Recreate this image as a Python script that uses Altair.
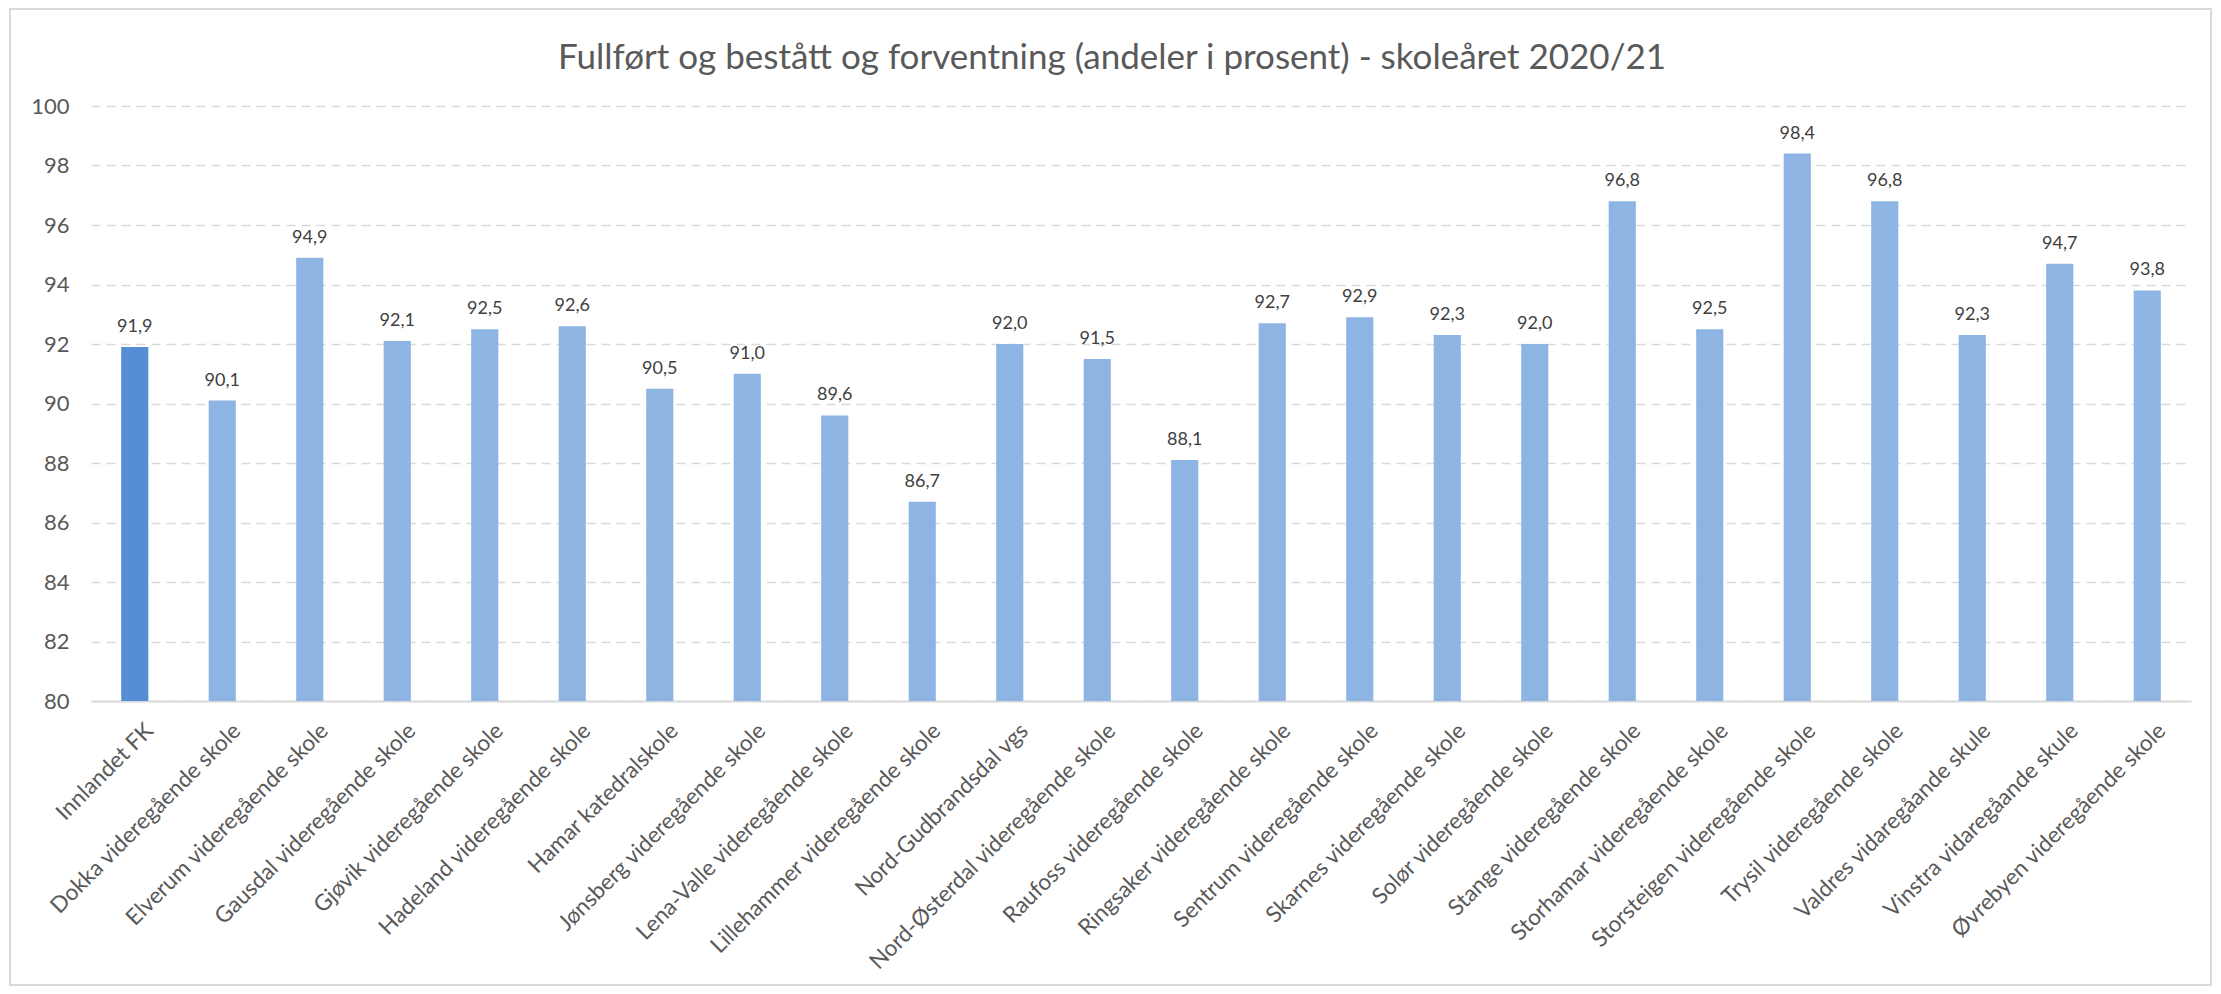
import altair as alt
import pandas as pd

schools = [
    "Innlandet FK",
    "Dokka videregående skole",
    "Elverum videregående skole",
    "Gausdal videregående skole",
    "Gjøvik videregående skole",
    "Hadeland videregående skole",
    "Hamar katedralskole",
    "Jønsberg videregående skole",
    "Lena-Valle videregående skole",
    "Lillehammer videregående skole",
    "Nord-Gudbrandsdal vgs",
    "Nord-Østerdal videregående skole",
    "Raufoss videregående skole",
    "Ringsaker videregående skole",
    "Sentrum videregående skole",
    "Skarnes videregående skole",
    "Solør videregående skole",
    "Stange videregående skole",
    "Storhamar videregående skole",
    "Storsteigen videregående skole",
    "Trysil videregående skole",
    "Valdres vidaregåande skule",
    "Vinstra vidaregåande skule",
    "Øvrebyen videregående skole",
]
values = [91.9, 90.1, 94.9, 92.1, 92.5, 92.6, 90.5, 91.0, 89.6, 86.7, 92.0, 91.5,
          88.1, 92.7, 92.9, 92.3, 92.0, 96.8, 92.5, 98.4, 96.8, 92.3, 94.7, 93.8]
groups = ["fylke"] + ["skole"] * (len(schools) - 1)
y_ticks = list(range(80, 101, 2))

df = pd.DataFrame({"skole": schools, "verdi": values, "gruppe": groups})
df["etikett"] = [f"{v:.1f}".replace(".", ",") for v in values]

FONT = "Lato"
GREY = "#595959"

x = alt.X("skole:N", sort=schools, title=None,
          scale=alt.Scale(paddingInner=0.69, paddingOuter=0.345),
          axis=alt.Axis(labelAngle=-45, labelAlign="right", labelBaseline="top",
                        labelFontSize=22.5, labelColor=GREY, labelFont=FONT,
                        labelPadding=18, labelOffset=7, ticks=False,
                        domainColor="#D9D9D9", domainWidth=2, grid=False,
                        labelLimit=700))
y = alt.Y("verdi:Q", title=None,
          scale=alt.Scale(domain=[80, 100], zero=False, nice=False),
          axis=alt.Axis(values=y_ticks, labelFontSize=22,
                        labelColor=GREY, labelFont=FONT, labelPadding=22,
                        ticks=False, domain=False, gridColor="#D9D9D9",
                        gridDash=[9, 6], gridWidth=1.5))

bars = alt.Chart(df).mark_bar(clip=True).encode(
    x=x, y=y,
    color=alt.Color("gruppe:N", legend=None,
                    scale=alt.Scale(domain=["fylke", "skole"],
                                    range=["#558ED5", "#8EB4E3"])),
)
labels = alt.Chart(df).mark_text(baseline="bottom", dy=-11, fontSize=18,
                                 font=FONT, color="#404040").encode(
    x=alt.X("skole:N", sort=schools), y="verdi:Q", text="etikett:N")

frame = alt.Chart(pd.DataFrame({"f": [0]})).mark_rect(
    fill=None, stroke="#D9D9D9", strokeWidth=2, clip=False).encode(
    x=alt.value(-81), x2=alt.value(2120), y=alt.value(-97), y2=alt.value(879))

chart = alt.layer(frame, bars, labels).properties(
    width=2100, height=595,
    autosize=alt.AutoSizeParams(type="none"),
    padding={"left": 83, "top": 98, "right": 22, "bottom": 285},
    title=alt.TitleParams("Fullført og bestått og forventning (andeler i prosent) - skoleåret 2020/21",
                          font=FONT, fontSize=35, fontWeight="normal", color=GREY,
                          anchor="middle", frame="group", offset=-68, dx=-29),
).configure(background="white", view=alt.ViewConfig(stroke=None))

chart.save("out.html", embed_options={"renderer": "svg", "actions": False})
